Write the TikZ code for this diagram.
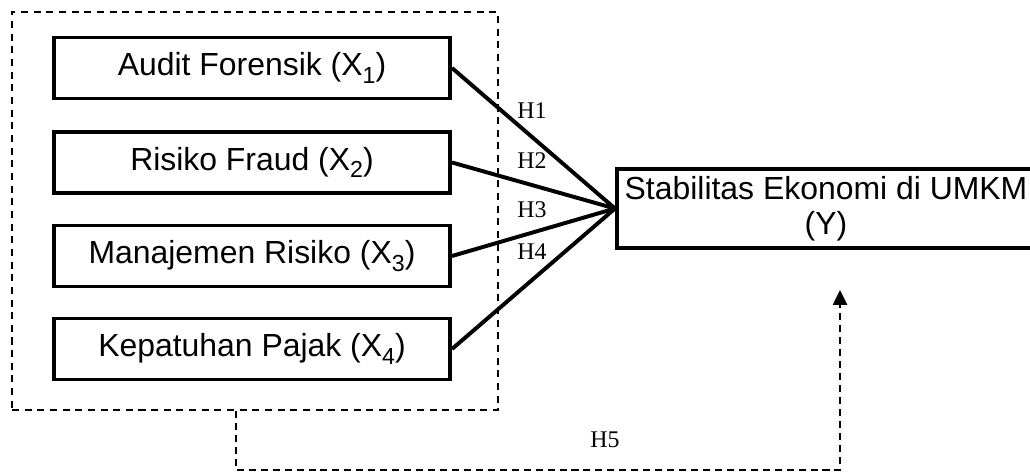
\documentclass[tikz,border=0pt]{standalone}
\usepackage{fontspec}
\setmainfont{Liberation Sans}
\newfontfamily\hfont{Liberation Serif}
\usetikzlibrary{arrows.meta}

\newcommand{\xsub}[1]{\raisebox{-5.5pt}{\fontsize{16.5pt}{17pt}\selectfont #1}}

\tikzset{
  varbox/.style={draw, line width=2.8pt, minimum width=9.9cm, minimum height=1.525cm,
    inner sep=0pt, font=\fontsize{22.7pt}{25pt}\selectfont},
  ybox/.style={varbox, minimum width=10.45cm, minimum height=1.975cm, align=center},
  grpbox/.style={draw, line width=1.3pt, dash pattern=on 5pt off 4pt,
    minimum width=12.15cm, minimum height=9.95cm, inner sep=0pt},
  hlabel/.style={draw=none, font=\hfont\fontsize{17pt}{20pt}\selectfont},
  path/.style={line width=2.8pt},
  h5path/.style={line width=1.2pt, dash pattern=on 5pt off 3.5pt,
    -{Triangle[length=10.5pt, width=10pt]}}
}

\begin{document}
\begin{tikzpicture}[x=0.025cm, y=-0.025cm]
             \useasboundingbox (0,0) rectangle (1030,473);
             \clip (0,0) rectangle (1030,473);

             \node[grpbox] (grp) at (255,211) {};

             \node[varbox] (x1) at (252,68) {Audit Forensik (X\xsub{1})};
             \node[varbox] (x2) at (252,162.5) {Risiko Fraud (X\xsub{2})};
             \node[varbox] (x3) at (252,256) {Manajemen Risiko (X\xsub{3})};
             \node[varbox] (x4) at (252,349) {Kepatuhan Pajak (X\xsub{4})};

             \node[ybox] (y) at (826,208.5) {Stabilitas Ekonomi di UMKM\\(Y)};

             \draw[path] (x1.east) -- (y.west);
             \draw[path] (x2.east) -- (y.west);
             \draw[path] (x3.east) -- (y.west);
             \draw[path] (x4.east) -- (y.west);

             \node[hlabel] (h1) at (532,111) {H1};
             \node[hlabel] (h2) at (532,161) {H2};
             \node[hlabel] (h3) at (532,210) {H3};
             \node[hlabel] (h4) at (532,252) {H4};

             % H5 goes round below the group
             \path (grp.south west) ++(225,0) coordinate (h5a);
             \coordinate (h5b) at (840,290);
             \draw[h5path] (h5a) -- ++(0,59) -| (h5b);
             \node[hlabel] (h5) at (605,440) {H5};

             \end{tikzpicture}
\end{document}
